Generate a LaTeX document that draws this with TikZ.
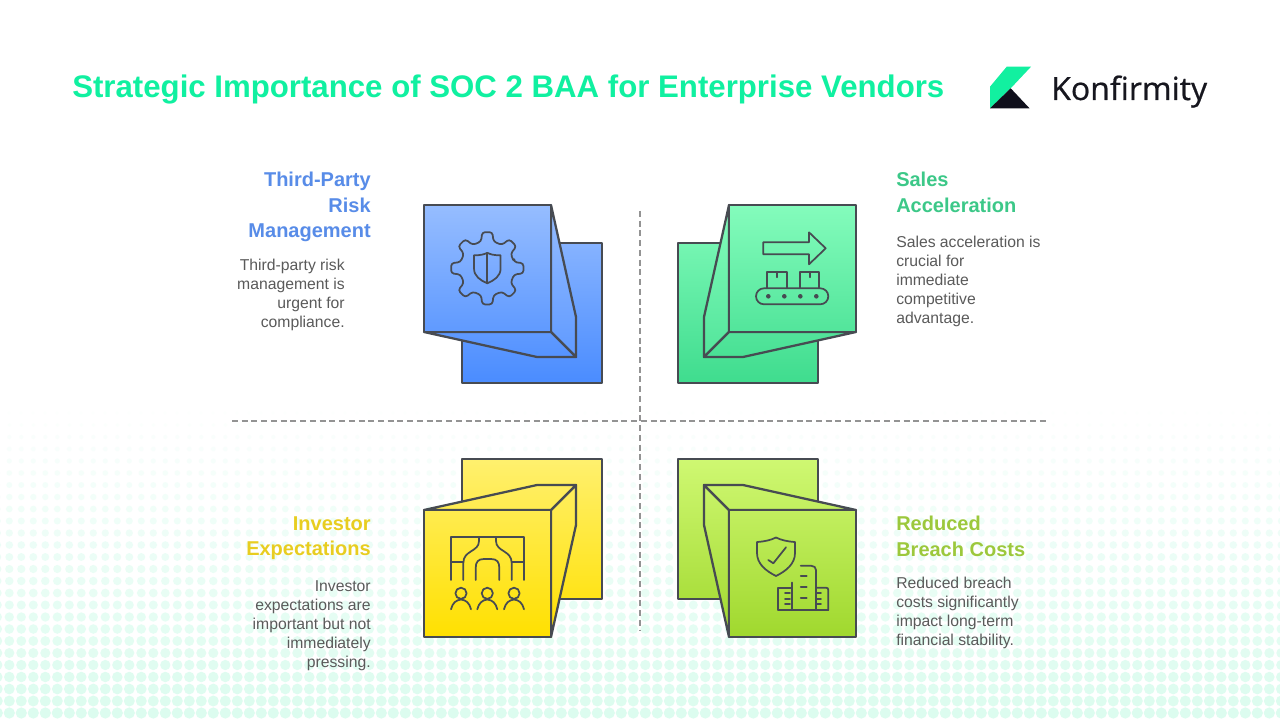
\documentclass[tikz,border=0pt]{standalone}
\usepackage{fontspec}
\setmainfont{Liberation Sans}
\newfontfamily\logofont[FakeBold=0.6]{Open Sans}
\definecolor{dotc}{HTML}{DCFCEF}
\definecolor{inkc}{HTML}{474B52}
\definecolor{bodyc}{HTML}{5A5A5A}
\definecolor{blueT}{HTML}{96BDFF}\definecolor{blueB}{HTML}{4A8CFF}
\definecolor{greenT}{HTML}{84FCBC}\definecolor{greenB}{HTML}{3FDC8E}
\definecolor{yelT}{HTML}{FFF06E}\definecolor{yelB}{HTML}{FFE000}
\definecolor{limeT}{HTML}{CFF872}\definecolor{limeB}{HTML}{A0D82E}
% piece: #1 colour prefix, #2 % at top, #3 % at bottom, #4 path
\newcommand{\cubepiece}[4]{\path[draw=inkc,line width=1.7pt,line join=round,top color=#1B!#2!#1T,bottom color=#1B!#3!#1T] #4 -- cycle;}
\tikzset{
 x=0.75pt,y=-0.75pt,
 icon/.style={draw=inkc,line width=1.3pt,line cap=round,line join=round},
 headtxt/.style={font=\bfseries\fontsize{15}{19.2}\selectfont,inner sep=0pt},
 bodytxt/.style={font=\fontsize{11.8}{14.25}\selectfont,text=bodyc,inner sep=0pt},
 divider/.style={draw=gray!85,line width=0.85pt,dash pattern=on 4.5pt off 2.8pt},
}
\begin{document}
\begin{tikzpicture}
\useasboundingbox (0,0) rectangle (1280,720);
\fill[white] (0,0) rectangle (1280,720);
% dotted background
\begin{scope}
\clip (0,0) rectangle (1280,720);
\foreach \k in {0,...,25}{
  \pgfmathsetmacro{\yy}{713-12*\k}
  \pgfmathsetmacro{\tt}{max(0.01,(\yy-405)/308)}
  \pgfmathsetmacro{\rr}{0.8+4.8*\tt^0.6}
  \pgfmathsetmacro{\pp}{100*\tt^0.8}
  \foreach \j in {0,...,107}{
    \pgfmathsetmacro{\xx}{-2.7+12*\j}
    \fill[dotc!\pp!white] (\xx,\yy) circle[radius=\rr];
  }
}
\end{scope}
% dividers
\coordinate (hl) at (232,421); \coordinate (hr) at (1048,421);
\coordinate (vt) at (640,211); \coordinate (vb) at (640,631);
\draw[divider] (hl) -- (hr);
\draw[divider] (vt) -- (vb);
% title
\node[name=title,anchor=base west,inner sep=0pt,font=\bfseries\fontsize{23.4}{28}\selectfont,text={rgb,255:red,16;green,240;blue,160}] at (72,98) {Strategic Importance of SOC 2 BAA for Enterprise Vendors};
% logo
\fill[fill={rgb,255:red,18;green,240;blue,160}] (990,86.7) -- (1006.7,66.7) -- (1031,66.7) -- (1010.7,88.3) -- (990,108.3) -- cycle;
\fill[fill={rgb,255:red,16;green,16;blue,28}] (1010.7,88.3) -- (1029.5,108.3) -- (990,108.3) -- cycle;
\node[name=logotext,anchor=base west,inner sep=0pt,font=\logofont\fontsize{24}{30}\selectfont,text={rgb,255:red,22;green,22;blue,30}] at (1051,100) {Konfirmity};
% BLUE cube
\cubepiece{blue}{21}{100}{(462,243) -- (602,243) -- (602,383) -- (462,383)}
\cubepiece{blue}{0}{72}{(551,205) -- (576,317) -- (576,357) -- (551,332)}
\cubepiece{blue}{72}{86}{(424,332) -- (537,357) -- (576,357) -- (551,332)}
\cubepiece{blue}{0}{72}{(424,205) -- (551,205) -- (551,332) -- (424,332)}
% GREEN cube
\cubepiece{green}{21}{100}{(678,243) -- (818,243) -- (818,383) -- (678,383)}
\cubepiece{green}{0}{72}{(729,205) -- (704,317) -- (704,357) -- (729,332)}
\cubepiece{green}{72}{86}{(856,332) -- (743,357) -- (704,357) -- (729,332)}
\cubepiece{green}{0}{72}{(729,205) -- (856,205) -- (856,332) -- (729,332)}
% YELLOW cube
\cubepiece{yel}{0}{79}{(462,459) -- (602,459) -- (602,599) -- (462,599)}
\cubepiece{yel}{14}{100}{(551,510) -- (576,485) -- (576,525) -- (551,637)}
\cubepiece{yel}{14}{28}{(424,510) -- (537,485) -- (576,485) -- (551,510)}
\cubepiece{yel}{28}{100}{(424,510) -- (551,510) -- (551,637) -- (424,637)}
% LIME cube
\cubepiece{lime}{0}{79}{(678,459) -- (818,459) -- (818,599) -- (678,599)}
\cubepiece{lime}{14}{100}{(729,510) -- (704,485) -- (704,525) -- (729,637)}
\cubepiece{lime}{14}{28}{(856,510) -- (743,485) -- (704,485) -- (729,510)}
\cubepiece{lime}{28}{100}{(729,510) -- (856,510) -- (856,637) -- (729,637)}
% gear + shield
\begin{scope}[shift={(487.3,268.3)}]
\draw[icon,rounded corners=2.2pt] (-13:27.5)
  \foreach \a in {0,45,...,315}{ -- (\a-13:27.5) -- (\a-8:36.5) -- (\a+8:36.5) -- (\a+13:27.5)} -- cycle;
\draw[icon] (-13.3,-13) .. controls (-6,-13) and (-3,-14) .. (0,-15.5) .. controls (3,-14) and (6,-13) .. (13.3,-13)
  -- (13.3,0) .. controls (13.3,8) and (7,12) .. (0,15) .. controls (-7,12) and (-13.3,8) .. (-13.3,0) -- cycle;
\draw[icon] (0,-15) -- (0,15);
\end{scope}
% arrow + conveyor
\draw[icon] (763.3,242.3) -- (809,242.3) -- (809,232.3) -- (825.7,248.3) -- (809,264.3) -- (809,254.3) -- (763.3,254.3) -- cycle;
\draw[icon,rounded corners=6pt] (756,288.3) rectangle (828.3,304.3);
\draw[icon] (767.3,288.3) -- (767.3,271.7) -- (786.7,271.7) -- (786.7,288.3);
\draw[icon] (800.3,288.3) -- (800.3,271.7) -- (819.3,271.7) -- (819.3,288.3);
\draw[icon] (777,271.7) -- (777,277.3);
\draw[icon] (810,271.7) -- (810,277.3);
\foreach \x in {768.3,784.3,800.3,816.3}{\fill[inkc] (\x,296.3) circle[radius=2.3];}
% pipes + people
\draw[icon] (451,580) -- (451,537.3) -- (524,537.3) -- (524,580);
\draw[icon] (479,537.3) -- (479,541) .. controls (479,552) and (463.3,550) .. (463.3,563) -- (463.3,580);
\draw[icon] (496,537.3) -- (496,541) .. controls (496,552) and (511.7,550) .. (511.7,563) -- (511.7,580);
\draw[icon] (451,562) -- (463.3,562);
\draw[icon] (511.7,562) -- (524,562);
\draw[icon] (475.7,580) -- (475.7,568) .. controls (475.7,562) and (478,559) .. (484,559) -- (491,559) .. controls (497,559) and (499.3,562) .. (499.3,568) -- (499.3,580);
\foreach \x in {461,487.3,514}{
  \draw[icon] (\x,593.3) circle[radius=5.6];
  \draw[icon] (\x-10,609.3) .. controls (\x-8.5,603) and (\x-5,600) .. (\x,599.5) .. controls (\x+5,600) and (\x+8.5,603) .. (\x+10,609.3);
}
% shield + buildings
\draw[icon] (757,542) .. controls (765,541.5) and (771,540) .. (776,537.5) .. controls (781,540) and (787,541.5) .. (795,542)
  -- (795,553) .. controls (795,564) and (786,571) .. (776,576) .. controls (766,571) and (757,564) .. (757,553) -- cycle;
\draw[icon] (768.3,560) -- (773.3,563.3) -- (786,547.3);
\draw[icon] (778.3,610) -- (828.3,610);
\draw[icon] (791.7,610) -- (791.7,582.5);
\draw[icon] (778.3,610) -- (778.3,587.7) -- (791.7,587.7);
\draw[icon] (800.7,565.7) -- (811,565.7) .. controls (814,565.7) and (816,567.5) .. (816,570) -- (816,610);
\draw[icon] (816,587.7) -- (826,587.7) .. controls (827.5,587.7) and (828.3,588.5) .. (828.3,590) -- (828.3,610);
\foreach \y in {593.3,599,604.3}{\draw[icon] (785,\y) -- (790,\y); \draw[icon] (816,\y) -- (821,\y);}
\foreach \y in {576,587.3,598.3}{\draw[icon] (800.7,\y) -- (806.7,\y);}
% labels
\node[name=h1,headtxt,anchor=north east,align=right,text={rgb,255:red,88;green,140;blue,232}] at (371,172) {Third-Party\\Risk\\Management};
\node[name=b1,bodytxt,anchor=north east,align=right] at (345,258.5) {Third-party risk\\management is\\urgent for\\compliance.};
\node[name=h2,headtxt,anchor=north west,align=left,text={rgb,255:red,60;green,200;blue,136}] at (896,172) {Sales\\Acceleration};
\node[name=b2,bodytxt,anchor=north west,align=left] at (896,236) {Sales acceleration is\\crucial for\\immediate\\competitive\\advantage.};
\node[name=h3,headtxt,anchor=north east,align=right,text={rgb,255:red,232;green,205;blue,32}] at (371,516) {Investor\\Expectations};
\node[name=b3,bodytxt,anchor=north east,align=right] at (371,580) {Investor\\expectations are\\important but not\\immediately\\pressing.};
\node[name=h4,headtxt,anchor=north west,align=left,text={rgb,255:red,156;green,200;blue,60}] at (896,516) {Reduced\\Breach Costs};
\node[name=b4,bodytxt,anchor=north west,align=left] at (896,576.5) {Reduced breach\\costs significantly\\impact long-term\\financial stability.};
\end{tikzpicture}
\end{document}
